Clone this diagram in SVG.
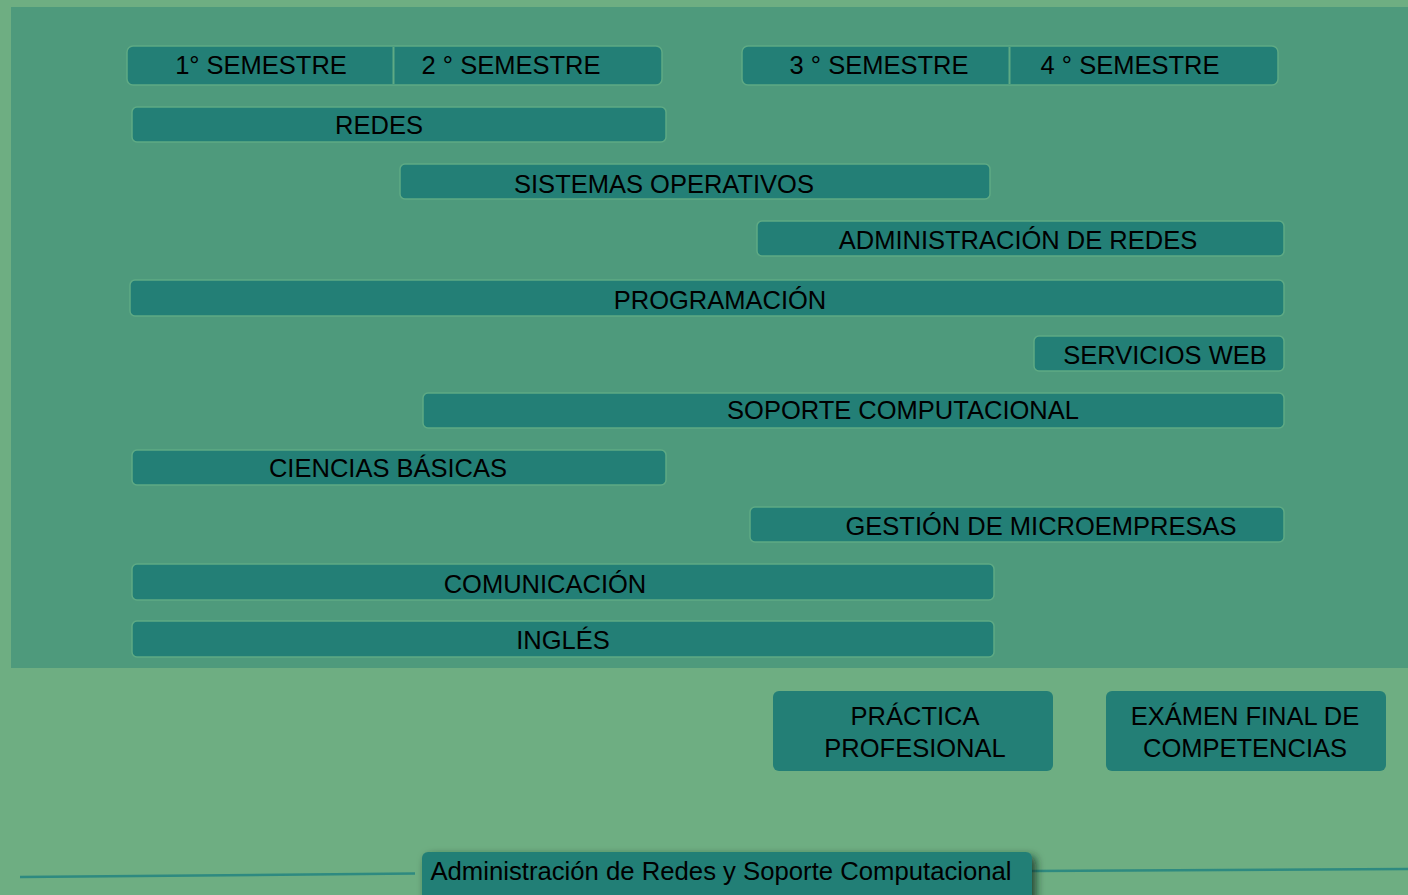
<svg xmlns="http://www.w3.org/2000/svg" width="1408" height="895" viewBox="0 0 1408 895">
<style>
.box{fill:#237F76;stroke:#5FAA84;stroke-width:1.5}
.t{font-family:"Liberation Sans",Arial,sans-serif;font-size:25.5px;fill:#000;text-anchor:middle}
.div{stroke:#5FAA84;stroke-width:2}
.ln{stroke:#2E8A80;stroke-width:2.5;fill:none}
</style>
<defs>
<filter id="sh" x="-10%" y="-50%" width="130%" height="250%">
<feDropShadow dx="4" dy="4" stdDeviation="4" flood-color="#0a2a20" flood-opacity="0.8"/>
</filter>
</defs>
<rect width="1408" height="895" fill="#6EAE82"/>
<rect x="11" y="7" width="1397" height="661" fill="#4E9A7C"/>
<g id="connectors">
<path class="ln" d="M20,877 L415,873.5"/>
<path class="ln" d="M1032,871 L1408,869"/>
</g>
<g id="sem12">
<rect class="box" x="127" y="46" width="535" height="39" rx="6"/>
<line class="div" x1="393.5" y1="47" x2="393.5" y2="84"/>
<text class="t" x="261" y="74">1° SEMESTRE</text>
<text class="t" x="511" y="74">2 ° SEMESTRE</text>
</g>
<g id="sem34">
<rect class="box" x="742" y="46" width="536" height="39" rx="6"/>
<line class="div" x1="1009.5" y1="47" x2="1009.5" y2="84"/>
<text class="t" x="879" y="74">3 ° SEMESTRE</text>
<text class="t" x="1130" y="74">4 ° SEMESTRE</text>
</g>
<g id="redes"><rect class="box" x="132" y="107" width="534" height="35" rx="5"/><text class="t" x="379" y="134">REDES</text></g>
<g id="sistemas"><rect class="box" x="400" y="164" width="590" height="35" rx="5"/><text class="t" x="664" y="193">SISTEMAS OPERATIVOS</text></g>
<g id="admin"><rect class="box" x="757" y="221" width="527" height="35" rx="5"/><text class="t" x="1018" y="249">ADMINISTRACIÓN DE REDES</text></g>
<g id="prog"><rect class="box" x="130" y="280" width="1154" height="36" rx="5"/><text class="t" x="720" y="309">PROGRAMACIÓN</text></g>
<g id="web"><rect class="box" x="1034" y="336" width="250" height="35" rx="5"/><text class="t" x="1165" y="364">SERVICIOS WEB</text></g>
<g id="soporte"><rect class="box" x="423" y="393" width="861" height="35" rx="5"/><text class="t" x="903" y="419">SOPORTE COMPUTACIONAL</text></g>
<g id="ciencias"><rect class="box" x="132" y="450" width="534" height="35" rx="5"/><text class="t" x="388" y="477">CIENCIAS BÁSICAS</text></g>
<g id="gestion"><rect class="box" x="750" y="507" width="534" height="35" rx="5"/><text class="t" x="1041" y="535">GESTIÓN DE MICROEMPRESAS</text></g>
<g id="comunicacion"><rect class="box" x="132" y="564" width="862" height="36" rx="5"/><text class="t" x="545" y="593">COMUNICACIÓN</text></g>
<g id="ingles"><rect class="box" x="132" y="621" width="862" height="36" rx="5"/><text class="t" x="563" y="649">INGLÉS</text></g>
<g id="practica"><rect class="box" x="773" y="691" width="280" height="80" rx="6" style="stroke:none"/><text class="t" x="915" y="725">PRÁCTICA</text><text class="t" x="915" y="757">PROFESIONAL</text></g>
<g id="examen"><rect class="box" x="1106" y="691" width="280" height="80" rx="6" style="stroke:none"/><text class="t" x="1245" y="725">EXÁMEN FINAL DE</text><text class="t" x="1245" y="757">COMPETENCIAS</text></g>
<g id="footer"><rect x="422" y="852" width="610" height="50" rx="6" fill="#237F76" filter="url(#sh)"/><text class="t" x="721" y="880" style="font-size:25.7px">Administración de Redes y Soporte Computacional</text></g>
</svg>
